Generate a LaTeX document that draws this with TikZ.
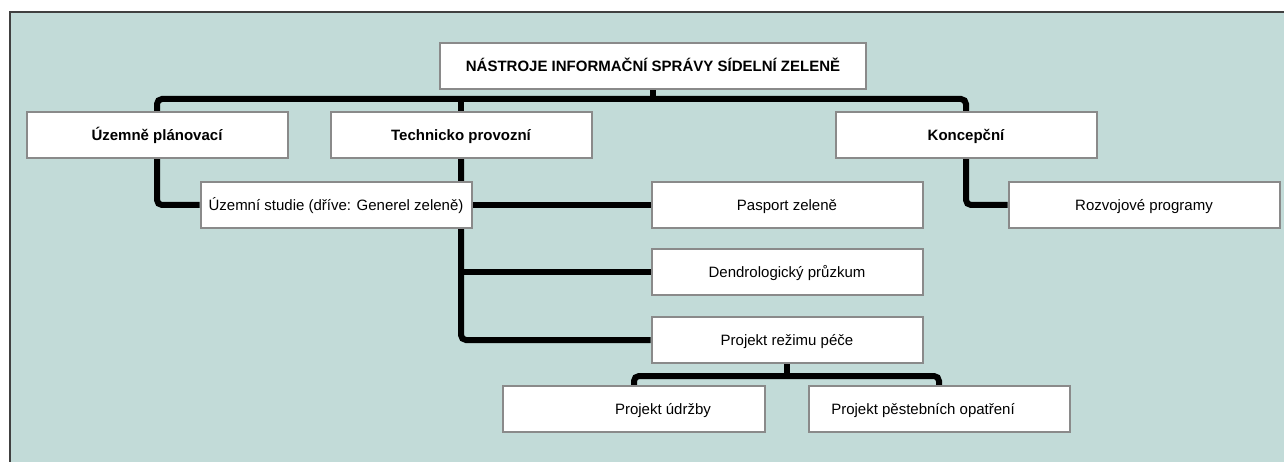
\documentclass[tikz,border=0pt]{standalone}
\usepackage{fontspec}
\setmainfont{Liberation Sans}
\usetikzlibrary{calc, positioning, backgrounds}
\definecolor{panelgreen}{HTML}{C2DBD8}
\definecolor{boxgray}{HTML}{8A8A8A}
\definecolor{framegray}{HTML}{404040}
\def\boxw{261pt}
\def\boxh{46pt}
\pgfdeclarelayer{panel}
\pgfdeclarelayer{lines}
\pgfsetlayers{panel,lines,main}
\tikzstyle{txt}=[font=\fontsize{15}{18}\selectfont,text height=12.5pt,text depth=1.5pt,inner sep=0pt]
\tikzstyle{box}=[txt,rectangle,draw=boxgray,line width=2pt,fill=white,minimum width=\boxw,minimum height=\boxh]
\tikzstyle{head box}=[box,font=\fontsize{15}{18}\selectfont\bfseries]
\tikzstyle{wide box}=[box,minimum width=271pt]
\tikzstyle{conn}=[line width=6pt,rounded corners=5pt]

\begin{document}
\begin{tikzpicture}[x=1pt,y=-1pt]
        \useasboundingbox (0,0) rectangle (1284,462);

		\node[head box, minimum width=426pt] (T) at (653,66) {NÁSTROJE INFORMAČNÍ SPRÁVY SÍDELNÍ ZELENĚ};
		\node[head box] (UP) at (157,135) {Územně plánovací};
		\node[head box] (TP) at (461,135) {Technicko provozní};
		\node[head box] (K) at (966,135) {Koncepční};
		\node[wide box] (US) at (336,205) {Územní studie (dříve: Generel zeleně)};
		\node[wide box] (PZ) at (787,205) {Pasport zeleně};
		\node[wide box] (RP) at (1144,205) {Rozvojové programy};
		\node[wide box] (DP) at (787,272) {Dendrologický průzkum};
		\node[wide box] (PR) at (787,340) {Projekt režimu péče};
		\node[box, minimum width=262pt, label={[txt,xshift=29pt]center:Projekt údržby}] (PU) at (634,409) {};
		\node[box, label={[txt,xshift=-16pt]center:Projekt pěstebních opatření}] (PP) at (939,409) {};

		\begin{pgfonlayer}{panel}
		\fill[panelgreen] (10,12) rectangle (1284,462);
		\draw[framegray, line width=2pt] (10,462) -- (10,12) -- (1284,12);
		\end{pgfonlayer}

		\begin{pgfonlayer}{lines}
		\coordinate (bus) at ($(UP.north)+(0,-12)$);
		\coordinate (bus2) at ($(PR.south)+(0,12)$);
		\draw[conn] (UP.north) |- (K.north |- bus) -- (K.north);
		\draw[conn] (T.south) -- (T.south |- bus);
		\draw[conn] (TP.north) -- (TP.north |- bus);
		\draw[conn] (UP.south) |- (US.west);
		\draw[conn] (K.south) |- (RP.west);
		\draw[conn] (TP.south) |- (PR.west);
		\draw[conn] (TP.south |- PZ.west) -- (PZ.west);
		\draw[conn] (TP.south |- DP.west) -- (DP.west);
		\draw[conn] (PR.south) -- (bus2);
		\draw[conn] (PU.north) |- (PP.north |- bus2) -- (PP.north);
		\end{pgfonlayer}
	\end{tikzpicture}
\end{document}
